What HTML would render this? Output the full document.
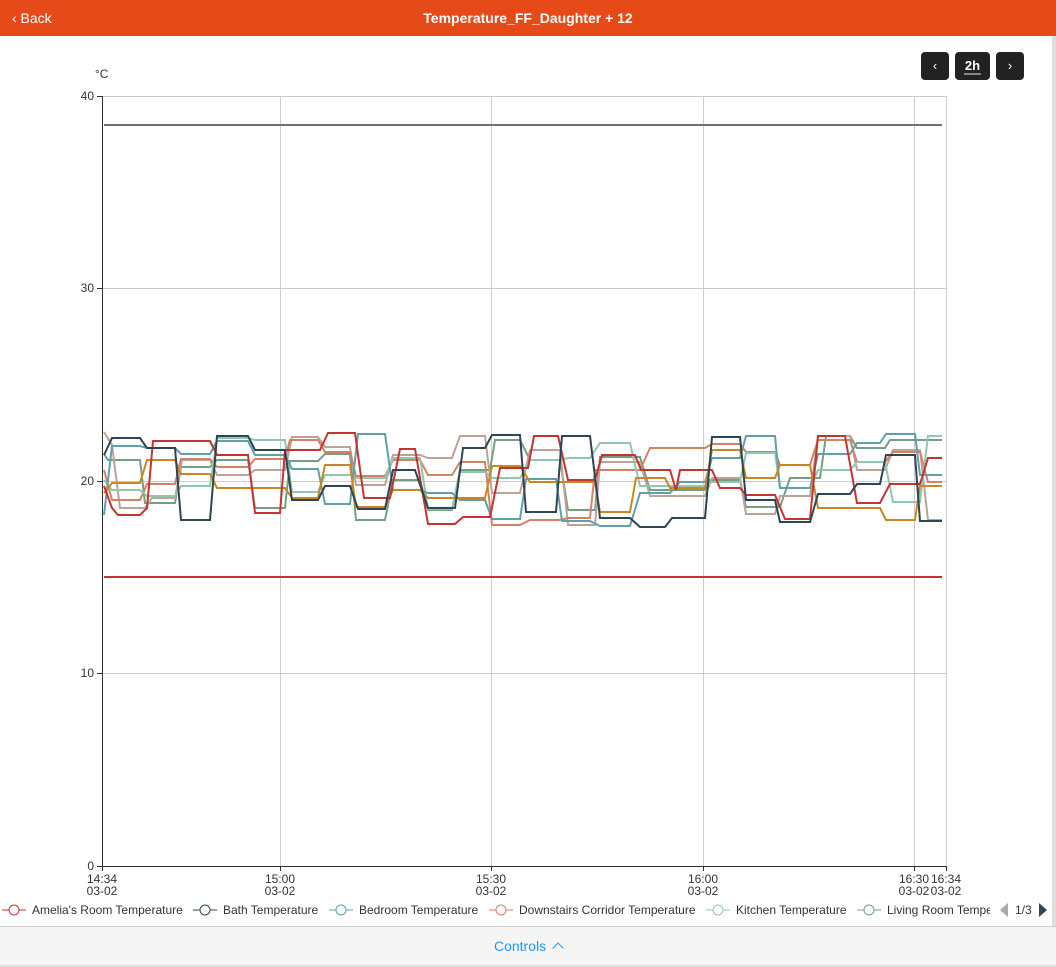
<!DOCTYPE html>
<html><head><meta charset="utf-8"><style>
body{margin:0;width:1056px;height:966px;background:#fff;font-family:"Liberation Sans",sans-serif;overflow:hidden;position:relative}
.top{position:absolute;left:0;top:0;width:1056px;height:36px;background:#e64a19;color:#fff}
.top .t{position:absolute;left:0;right:0;top:10px;text-align:center;font-size:14px;font-weight:bold}
.top .b{position:absolute;left:12px;top:10px;font-size:14px}
.btn{position:absolute;top:52px;height:28px;background:#222;border-radius:4px;color:#fff;font-size:13px;text-align:center;line-height:28px}
.bottom{position:absolute;left:0;top:926px;width:1056px;height:38px;background:#f5f5f5;border-top:1px solid #ccc;border-bottom:2px solid #ddd;text-align:center;line-height:38px;color:#2196f3;font-size:14px}
.rb{position:absolute;right:0;top:36px;width:4px;height:890px;background:#ddd}
</style></head><body>
<div class="top"><span class="b">&#x2039; Back</span><div class="t">Temperature_FF_Daughter + 12</div></div>
<div class="rb"></div>
<div class="btn" style="left:921px;width:28px">&#x2039;</div>
<div class="btn" style="left:955px;width:35px;font-weight:bold">2h<div style="position:absolute;left:9px;right:9px;bottom:5px;height:2px;background:#888"></div></div>
<div class="btn" style="left:996px;width:28px">&#x203A;</div>
<svg width="1056" height="966" style="position:absolute;left:0;top:0" font-family="Liberation Sans" font-size="12" fill="#333">
<text x="95" y="78">°C</text>
<g stroke="#ccc" stroke-width="1">
<line x1="102" y1="96.5" x2="946" y2="96.5"/><line x1="102" y1="288.5" x2="946" y2="288.5"/><line x1="102" y1="481.5" x2="946" y2="481.5"/><line x1="102" y1="673.5" x2="946" y2="673.5"/>
<line x1="280.5" y1="96" x2="280.5" y2="866"/><line x1="491.5" y1="96" x2="491.5" y2="866"/><line x1="703.5" y1="96" x2="703.5" y2="866"/><line x1="914.5" y1="96" x2="914.5" y2="866"/><line x1="946.5" y1="96" x2="946.5" y2="866"/>
</g>
<g stroke="#333"><line x1="102.5" y1="96" x2="102.5" y2="866"/><line x1="102" y1="866.5" x2="946" y2="866.5"/>
<line x1="97" y1="96.5" x2="102" y2="96.5"/><line x1="97" y1="288.5" x2="102" y2="288.5"/><line x1="97" y1="481.5" x2="102" y2="481.5"/><line x1="97" y1="673.5" x2="102" y2="673.5"/><line x1="97" y1="866.5" x2="102" y2="866.5"/>
<line x1="102.5" y1="866" x2="102.5" y2="871"/><line x1="280.5" y1="866" x2="280.5" y2="871"/><line x1="491.5" y1="866" x2="491.5" y2="871"/><line x1="703.5" y1="866" x2="703.5" y2="871"/><line x1="914.5" y1="866" x2="914.5" y2="871"/><line x1="946.5" y1="866" x2="946.5" y2="871"/></g>
<g text-anchor="end"><text x="94" y="100">40</text><text x="94" y="292">30</text><text x="94" y="485">20</text><text x="94" y="677">10</text><text x="94" y="870">0</text></g>
<g text-anchor="middle"><text x="102" y="883">14:34</text><text x="102" y="895">03-02</text><text x="280" y="883">15:00</text><text x="280" y="895">03-02</text><text x="491" y="883">15:30</text><text x="491" y="895">03-02</text><text x="703" y="883">16:00</text><text x="703" y="895">03-02</text><text x="914" y="883">16:30</text><text x="914" y="895">03-02</text><text x="946" y="883">16:34</text><text x="946" y="895">03-02</text></g>
<line x1="104" y1="125" x2="942" y2="125" stroke="#6e7074" stroke-width="2"/>
<line x1="104" y1="577" x2="942" y2="577" stroke="#c23531" stroke-width="2"/>
<g fill="none" stroke-width="2">
<polyline stroke="#749f83" points="104,454 108,460 140,460 145,503 175,503 181,467 210,467 217,460 248,460 255,508 285,508 290,461 318,461 325,454 350,454 356,520 385,520 393,480 420,480 428,510 452,510 460,470 490,470 495,440 520,440 530,460 560,460 568,510 595,510 600,457 640,457 650,490 705,490 710,480 740,480 746,507 780,507 790,478 820,478 826,436 850,436 857,448 885,448 890,440 942,440"/>
<polyline stroke="#bda29a" points="104,432 112,445 120,508 145,508 152,498 175,498 182,460 210,460 217,475 248,475 255,470 285,470 292,437 318,437 325,447 350,447 356,485 385,485 393,455 420,455 428,458 452,458 460,436 485,436 492,493 520,493 530,450 560,450 568,525 595,525 600,462 640,462 650,496 705,496 712,478 740,478 746,514 775,514 780,496 810,496 818,436 850,436 857,470 885,470 893,450 920,450 928,520 942,520"/>
<polyline stroke="#d48265" points="104,470 112,500 140,500 147,484 175,484 181,459 210,459 217,467 248,467 255,459 285,459 290,440 318,440 325,452 350,452 356,476 385,476 393,460 420,460 428,475 452,475 460,462 485,462 492,525 520,525 530,520 560,520 568,518 590,518 595,470 640,470 650,448 705,448 712,444 740,444 746,452 775,452 780,465 810,465 818,440 850,440 857,462 885,462 893,452 920,452 928,482 942,482"/>
<polyline stroke="#91c7ae" points="104,480 112,490 140,490 147,496 175,496 181,486 210,486 217,438 248,438 255,440 285,440 292,492 318,492 325,475 350,475 356,478 385,478 393,458 420,458 428,509 452,509 460,472 485,472 492,478 520,478 530,460 560,460 568,458 590,458 600,443 630,443 640,486 705,486 712,482 740,482 746,453 775,453 780,488 810,488 818,470 850,470 857,462 885,462 893,502 920,502 928,436 942,436"/>
<polyline stroke="#61a0a8" points="104,515 112,446 140,446 147,448 175,448 181,454 210,454 217,441 248,441 255,455 285,455 292,469 318,469 325,504 350,504 358,434 385,434 393,490 420,490 428,493 452,493 460,500 485,500 492,519 520,519 526,479 556,479 562,521 590,521 600,526 630,526 640,493 670,493 680,482 705,482 712,458 740,458 746,436 775,436 780,488 810,488 818,454 850,454 857,443 880,443 886,434 915,434 920,475 942,475"/>
<polyline stroke="#ca8622" points="104,493 112,483 140,483 147,460 175,460 181,474 210,474 217,488 248,488 255,488 285,488 292,498 318,498 325,465 350,465 356,507 385,507 393,490 420,490 428,498 452,498 460,498 485,498 492,466 520,466 530,482 560,482 568,482 595,482 600,512 630,512 636,478 665,478 670,488 705,488 712,450 740,450 746,478 775,478 780,465 810,465 818,508 850,508 857,508 880,508 886,520 915,520 920,486 942,486"/>
<polyline stroke="#c23531" points="104,486 112,508 118,515 140,515 147,508 153,441 210,441 217,455 248,455 255,513 280,513 285,450 320,450 328,433 355,433 364,498 390,498 400,449 415,449 428,524 455,524 463,517 490,517 500,468 528,468 534,436 558,436 568,480 595,480 602,455 635,455 641,470 670,470 676,490 680,470 712,470 720,488 740,488 746,495 775,495 785,519 810,519 818,436 845,436 857,503 880,503 890,484 920,484 928,458 942,458"/>
<polyline stroke="#2f4554" points="104,455 112,438 140,438 147,448 175,448 181,520 210,520 217,436 248,436 255,450 285,450 292,500 318,500 325,486 350,486 358,509 385,509 393,470 415,470 428,508 455,508 463,448 485,448 492,435 520,435 526,512 556,512 562,436 590,436 600,518 630,518 640,527 665,527 672,518 705,518 712,437 740,437 746,500 775,500 780,522 810,522 818,494 850,494 857,484 880,484 886,455 915,455 920,521 942,521"/>
</g>
<g font-size="12" fill="#333">
<g fill="none" stroke-width="1"><line x1="2" y1="910" x2="26" y2="910" stroke="#c23531"/><circle cx="14" cy="910" r="5" fill="#fff" stroke="#c23531"/>
<line x1="193" y1="910" x2="217" y2="910" stroke="#2f4554"/><circle cx="205" cy="910" r="5" fill="#fff" stroke="#2f4554"/>
<line x1="329" y1="910" x2="353" y2="910" stroke="#61a0a8"/><circle cx="341" cy="910" r="5" fill="#fff" stroke="#61a0a8"/>
<line x1="489" y1="910" x2="513" y2="910" stroke="#d48265"/><circle cx="501" cy="910" r="5" fill="#fff" stroke="#d48265"/>
<line x1="706" y1="910" x2="730" y2="910" stroke="#91c7ae"/><circle cx="718" cy="910" r="5" fill="#fff" stroke="#91c7ae"/>
<line x1="857" y1="910" x2="881" y2="910" stroke="#749f83"/><circle cx="869" cy="910" r="5" fill="#fff" stroke="#749f83"/></g>
<text x="32" y="914">Amelia's Room Temperature</text><text x="223" y="914">Bath Temperature</text><text x="359" y="914">Bedroom Temperature</text><text x="519" y="914">Downstairs Corridor Temperature</text><text x="736" y="914">Kitchen Temperature</text>
<svg x="887" y="898" width="103" height="20"><text x="0" y="16">Living Room Temperature</text></svg>
<polygon points="1008,903 1008,917 1000,910" fill="#aaa"/><text x="1015" y="914">1/3</text><polygon points="1039,903 1039,917 1047,910" fill="#2f4554"/>
</g>
</svg>
<div class="bottom">Controls <span style="display:inline-block;width:7px;height:7px;border-left:1.5px solid #2196f3;border-top:1.5px solid #2196f3;transform:rotate(45deg);margin-left:4px;position:relative;top:1px"></span></div>
</body></html>
